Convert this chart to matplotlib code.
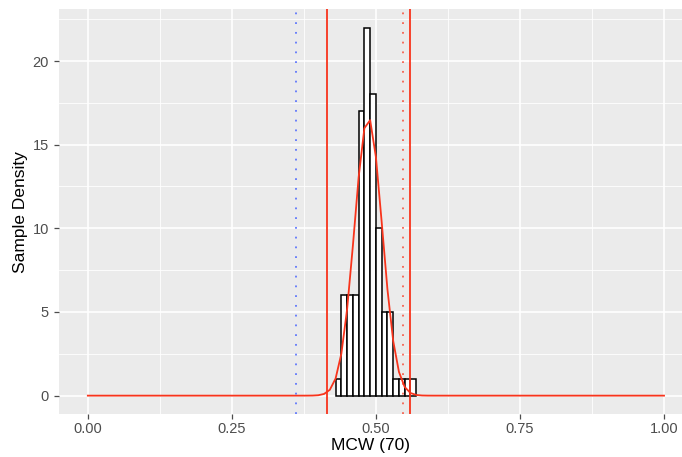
import matplotlib.pyplot as plt
import numpy as np

plt.rcParams['font.family'] = ['Liberation Sans', 'DejaVu Sans']

# histogram of sampled MCW values (density, binwidth 0.01)
bin_edges = [0.43, 0.44, 0.45, 0.46, 0.47, 0.48, 0.49, 0.50, 0.51, 0.52, 0.53, 0.54, 0.55, 0.56, 0.57]
density = [1, 6, 6, 6, 17, 22, 18, 10, 5, 5, 1, 1, 1, 1]

# fitted normal curve
mu = 0.4867
sigma = 0.024

# reference lines
red_solid = [mu - 3 * sigma, mu + 3 * sigma]
red_dotted = 0.547
blue_dotted = 0.362

x_ticks = [0.0, 0.25, 0.5, 0.75, 1.0]
x_labels = ['0.00', '0.25', '0.50', '0.75', '1.00']
y_ticks = [0, 5, 10, 15, 20]

fig = plt.figure(figsize=(6.82, 4.57), dpi=100)
ax = fig.add_axes([0.0861, 0.0940, 1 - 0.0861, 0.980 - 0.0940])
ax.set_facecolor('#EBEBEB')
for s in ax.spines.values():
    s.set_visible(False)

# grid
for v in [0.125, 0.375, 0.625, 0.875]:
    ax.axvline(v, color='white', lw=0.6, zorder=0)
for v in x_ticks:
    ax.axvline(v, color='white', lw=1.2, zorder=0)
for v in [2.5, 7.5, 12.5, 17.5, 22.5]:
    ax.axhline(v, color='white', lw=0.6, zorder=0)
for v in y_ticks:
    ax.axhline(v, color='white', lw=1.2, zorder=0)

widths = np.diff(bin_edges)
ax.bar(bin_edges[:-1], density, width=widths, align='edge', color='white',
       edgecolor='black', linewidth=1.1, zorder=2)

xs = np.linspace(0, 1, 101)
ys = np.exp(-0.5 * ((xs - mu) / sigma) ** 2) / (sigma * np.sqrt(2 * np.pi))
ax.plot(xs, ys, color='#F8341C', lw=1.3, zorder=3)

for v in red_solid:
    ax.axvline(v, color='#F8341C', lw=1.3, zorder=3)
ax.axvline(red_dotted, color='#F8341C', lw=1.3, ls=(0, (1, 4.4)), alpha=0.75, zorder=3)
ax.axvline(blue_dotted, color='#3D5BFF', lw=1.3, ls=(0, (1, 4.4)), alpha=0.8, zorder=3)

ax.set_xlim(-0.0505, 1.0312)
ax.set_ylim(-1.1, 23.1)
ax.set_xticks(x_ticks)
ax.set_xticklabels(x_labels)
ax.set_yticks(y_ticks)
ax.tick_params(colors='#4D4D4D', labelsize=10.5, length=3.5, width=0.9)
ax.tick_params(axis='x', pad=2.5)
ax.set_xlabel('MCW (70)', fontsize=12.5, color='black', labelpad=1)
ax.set_ylabel('Sample Density', fontsize=12.5, color='black', labelpad=3)

plt.savefig('out.png', dpi=100)
